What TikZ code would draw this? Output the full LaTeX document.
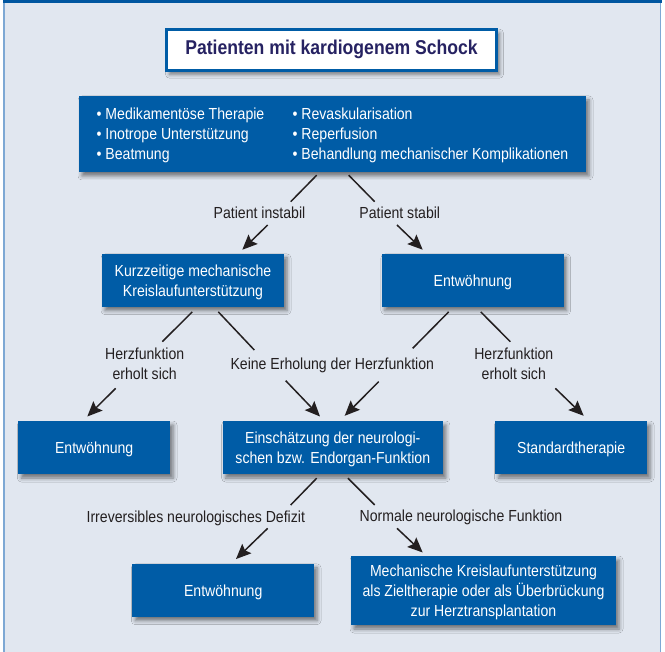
\documentclass[tikz,border=0pt]{standalone}
\usepackage{fontspec}
\setmainfont[FakeStretch=0.88]{Liberation Sans}
\usetikzlibrary{arrows.meta,shadows.blur}
\definecolor{bg}{RGB}{225,231,240}
\definecolor{boxblue}{RGB}{0,92,166}
\definecolor{barblue}{RGB}{0,86,160}
\definecolor{framecol}{RGB}{125,168,212}
\definecolor{titlecol}{RGB}{38,34,98}
\definecolor{inkcol}{RGB}{35,31,32}
\newcommand\bt[1]{\begin{tabular}{@{}c@{}}\rule{0pt}{17.5pt}#1\end{tabular}}
\newcommand\lb[1]{\begin{tabular}[t]{@{}c@{}}#1\end{tabular}}
\begin{document}
\begin{tikzpicture}[x=1pt,y=-1pt,
  every node/.style={font=\fontsize{16}{20}\selectfont},
  shad/.style={blur shadow={shadow xshift=3pt,shadow yshift=-4pt,shadow blur radius=4pt,shadow opacity=50}},
  bluebox/.style={shad,fill=boxblue,text=white,inner sep=0pt},
  titlebox/.style={shad,fill=white,draw=boxblue,line width=3pt,text=titlecol,inner sep=0pt},
  lbl/.style={text=inkcol,inner sep=0pt,anchor=base},
  ln/.style={draw=inkcol,line width=1.5pt},
  arr/.style={ln,-{Stealth[length=15pt,width=13pt,inset=2.5pt]}}
]
\useasboundingbox (0,0) rectangle (665,652);
\fill[white] (0,0) rectangle (665,652);
\fill[bg] (4,0) rectangle (660.5,652);
\draw[framecol,line width=1.5pt] (4,0) -- (4,652);
\draw[framecol,line width=1.5pt] (660.5,0) -- (660.5,652);
\fill[barblue] (3,0) rectangle (661.5,3.5);

% boxes
\node[titlebox,minimum width=330pt,minimum height=41pt] (title) at (331.5,49.7)
  {\fontsize{20}{24}\selectfont\bfseries Patienten mit kardiogenem Schock};
\node[bluebox,minimum width=507pt,minimum height=76pt] (main) at (332.5,134)
  {\begin{tabular}{@{}p{196pt}@{}l@{}}
   \rule{0pt}{17.5pt}\textbullet\ Medikamentöse Therapie & \textbullet\ Revaskularisation\\
   \textbullet\ Inotrope Unterstützung & \textbullet\ Reperfusion\\
   \textbullet\ Beatmung & \textbullet\ Behandlung mechanischer Komplikationen
   \end{tabular}};
\node[bluebox,minimum width=182pt,minimum height=52.7pt] (kurz) at (193,280.3)
  {\bt{Kurzzeitige mechanische\\Kreislaufunterstützung}};
\node[bluebox,minimum width=181.7pt,minimum height=52.7pt] (entwR) at (472.8,280.3)
  {\bt{Entwöhnung}};
\node[bluebox,minimum width=151.7pt,minimum height=53pt] (entwL) at (94.2,447.5)
  {\bt{Entwöhnung}};
\node[bluebox,minimum width=220.3pt,minimum height=53pt] (einsch) at (332.8,447.5)
  {\bt{Einschätzung der neurologi-\\schen bzw. Endorgan-Funktion}};
\node[bluebox,minimum width=151.7pt,minimum height=53pt] (standard) at (571.2,447.5)
  {\bt{Standardtherapie}};
\node[bluebox,minimum width=181.7pt,minimum height=52.7pt] (entwB) at (223.2,590.3)
  {\bt{Entwöhnung}};
\node[bluebox,minimum width=265pt,minimum height=69pt] (mech) at (483.5,590.5)
  {\bt{Mechanische Kreislaufunterstützung\\als Zieltherapie oder als Überbrückung\\zur Herztransplantation}};

% labels
\node[lbl] (l1) at (259.5,219) {Patient instabil};
\node[lbl] (l2) at (399.8,219) {Patient stabil};
\node[lbl] (l3) at (144.7,360) {\lb{Herzfunktion\\erholt sich}};
\node[lbl] (l4) at (332.3,370) {Keine Erholung der Herzfunktion};
\node[lbl] (l5) at (513.8,360) {\lb{Herzfunktion\\erholt sich}};
\node[lbl] (l6) at (195.8,522.3) {Irreversibles neurologisches Defizit};
\node[lbl] (l7) at (461,522) {Normale neurologische Funktion};

% connector points
\coordinate (a1) at (290.7,201.7); \coordinate (b1) at (267.7,225);
\coordinate (a2) at (374.7,201.7); \coordinate (b2) at (397,225);
\coordinate (a3) at (162.3,341.7); \coordinate (b3) at (115.7,388.3);
\coordinate (a4) at (254.3,350);   \coordinate (b4) at (285.7,380.7);
\coordinate (a5) at (412.7,348.3); \coordinate (b5) at (378.7,381.7);
\coordinate (a6) at (510.3,341.7); \coordinate (b6) at (555.3,388.3);
\coordinate (a7) at (290.7,505);   \coordinate (b7) at (267.7,528.3);
\coordinate (a8) at (374.7,505);   \coordinate (b8) at (397,528.3);

% connectors
\draw[ln] ([xshift=-15.8pt,yshift=-3pt]main.south) -- (a1);
\draw[arr] (b1) -- ([xshift=49.3pt,yshift=4pt]kurz.north);
\draw[ln] ([xshift=16.2pt,yshift=-3pt]main.south) -- (a2);
\draw[arr] (b2) -- ([xshift=-50.1pt,yshift=4pt]entwR.north);
\draw[ln] ([xshift=-0.7pt,yshift=-5pt]kurz.south) -- (a3);
\draw[arr] (b3) -- ([xshift=-6.9pt,yshift=4.3pt]entwL.north);
\draw[ln] ([xshift=25.3pt,yshift=-5pt]kurz.south) -- (a4);
\draw[arr] (b4) -- ([xshift=-12.8pt,yshift=4.3pt]einsch.north);
\draw[ln] ([xshift=-24.1pt,yshift=-5pt]entwR.south) -- (a5);
\draw[arr] (b5) -- ([xshift=11.9pt,yshift=5pt]einsch.north);
\draw[ln] ([xshift=7.9pt,yshift=-5pt]entwR.south) -- (a6);
\draw[arr] (b6) -- ([xshift=12.5pt,yshift=5pt]standard.north);
\draw[ln] ([xshift=-16.1pt,yshift=-4pt]einsch.south) -- (a7);
\draw[arr] (b7) -- ([xshift=12.8pt,yshift=4.7pt]entwB.north);
\draw[ln] ([xshift=15.2pt,yshift=-4pt]einsch.south) -- (a8);
\draw[arr] (b8) -- ([xshift=-60.8pt,yshift=3.3pt]mech.north);
\end{tikzpicture}
\end{document}
